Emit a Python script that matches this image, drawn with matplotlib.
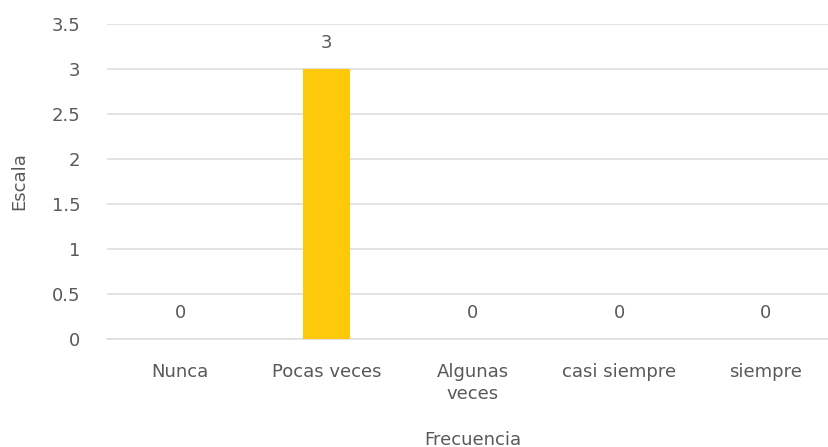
import matplotlib.pyplot as plt

categories = ["Nunca", "Pocas veces", "Algunas\nveces", "casi siempre", "siempre"]
values = [0, 3, 0, 0, 0]
y_ticks = [0, 0.5, 1, 1.5, 2, 2.5, 3, 3.5]
y_tick_labels = ["0", "0.5", "1", "1.5", "2", "2.5", "3", "3.5"]

text_color = "#595959"
fs = 13
plt.rcParams["font.family"] = ["DejaVu Sans"]

W, H = 829, 447
fig = plt.figure(figsize=(W / 100, H / 100), dpi=100)
# axes spans x 107..839 px (slightly past the right edge), y 24..339 px
ax = fig.add_axes([107 / W, (H - 339) / H, (839 - 107) / W, (339 - 24) / H])

x = range(len(categories))
bars = ax.bar(x, values, width=0.325, color="#FFC90B", zorder=3)

ax.set_xlim(-0.5, len(categories) - 0.5)
ax.set_ylim(0, 3.5)
ax.set_yticks(y_ticks)
ax.set_yticklabels(y_tick_labels)
ax.set_xticks(list(x))
ax.set_xticklabels(categories, linespacing=1.3)

ax.grid(True, axis="y", color="#dedede", linewidth=1.2, zorder=0)
for side in ["top", "right", "left"]:
    ax.spines[side].set_visible(False)
ax.spines["bottom"].set_color("#dedede")
ax.spines["bottom"].set_linewidth(1.2)
ax.tick_params(axis="both", length=0, colors=text_color, labelsize=fs)
ax.tick_params(axis="x", pad=17)
ax.tick_params(axis="y", pad=19)

for xi, v in zip(x, values):
    ax.annotate(f"{v:g}", (xi, v), xytext=(0, 19), textcoords="offset points",
                ha="center", va="center",
                fontsize=fs, color=text_color)

ax.set_ylabel("Escala", fontsize=fs, color=text_color, labelpad=17)
ax.set_xlabel("Frecuencia", fontsize=fs, color=text_color, labelpad=20)

fig.savefig("out.png", dpi=100)
